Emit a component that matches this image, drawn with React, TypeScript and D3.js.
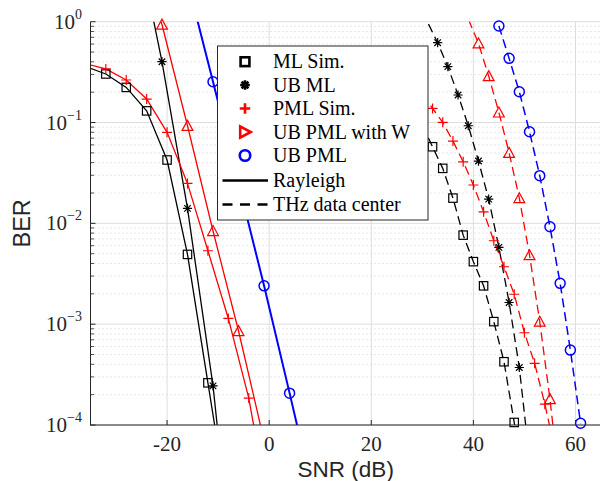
import React from 'react';
import * as d3 from 'd3';

const W = 600;
const H = 481;

// Rayleigh channel (solid lines)
const mlSimRayX = [-36, -32, -28, -24, -20, -16, -12, -8];
const mlSimRayY = [0.36, 0.303, 0.223, 0.1305, 0.0425, 0.00492, 2.62e-4, 1.4e-5];
const ubMlRayX = [-23, -21, -16, -11, -6];
const ubMlRayY = [1.26, 0.401, 0.0141, 2.44e-4, 1e-6];
const pmlSimRayX = [-36, -32, -28, -24, -20, -16, -12, -8, -4, 0];
const pmlSimRayY = [0.384, 0.34, 0.264, 0.171, 0.08, 0.0249, 0.00535, 0.00114, 1.85e-4, 1.4e-5];
const ubPmlWRayX = [-23, -21, -16, -11, -6, -1];
const ubPmlWRayY = [2.0, 0.938, 0.0929, 0.0084, 8.55e-4, 7e-5];
const ubPmlRayX = [-16, -11, -6, -1, 4, 9];
const ubPmlRayY = [2.5, 0.254, 0.025, 0.0024, 2.07e-4, 1.7e-5];

// THz data center (dashed lines)
const mlSimThzX = [30, 32, 34, 36, 38, 40, 42, 44, 46, 48, 50];
const mlSimThzY = [0.094, 0.0575, 0.0351, 0.0178, 0.00764, 0.00417, 0.0024, 0.00106, 4.24e-4, 1.06e-4, 2.5e-5];
const ubMlThzX = [30, 33, 35, 37, 39, 41, 43, 45, 47, 49, 51];
const ubMlThzY = [1.26, 0.619, 0.358, 0.1875, 0.0929, 0.0415, 0.0174, 0.00578, 0.00164, 3.72e-4, 4.5e-5];
const pmlSimThzX = [30, 32, 34, 36, 38, 40, 42, 44, 46, 48, 50, 52, 54, 56];
const pmlSimThzY = [0.19, 0.138, 0.1005, 0.0655, 0.0408, 0.024, 0.013, 0.00672, 0.00371, 0.00198, 8.22e-4, 4.09e-4, 1.61e-4, 5.6e-5];
const ubPmlWThzX = [38, 41, 43, 45, 47, 49, 51, 53, 55, 57];
const ubPmlWThzY = [1.41, 0.61, 0.289, 0.126, 0.0501, 0.0178, 0.00484, 0.00106, 1.81e-4, 2.3e-5];
const ubPmlThzX = [45, 47, 49, 51, 53, 55, 57, 59, 61];
const ubPmlThzY = [0.906, 0.433, 0.202, 0.081, 0.0297, 0.00925, 0.00254, 5.53e-4, 1.04e-4];

const xTicks = [-20, 0, 20, 40, 60];
const xTickLabels = ['-20', '0', '20', '40', '60'];
const yTicks = [1, 0.1, 0.01, 0.001, 0.0001];
const yTickExp = ['0', '\u22121', '\u22122', '\u22123', '\u22124'];

const legendLabels = ['ML Sim.', 'UB ML', 'PML Sim.', 'UB PML with W', 'UB PML', 'Rayleigh', 'THz data center'];

const DASH = '9,5';

const series = [
  { x: mlSimRayX, y: mlSimRayY, color: '#000000', dash: null, marker: 'square', lw: 1.3 },
  { x: ubMlRayX, y: ubMlRayY, color: '#000000', dash: null, marker: 'star', lw: 1.3 },
  { x: pmlSimRayX, y: pmlSimRayY, color: '#ff0000', dash: null, marker: 'plus', lw: 1.3 },
  { x: ubPmlWRayX, y: ubPmlWRayY, color: '#ff0000', dash: null, marker: 'tri', lw: 1.3 },
  { x: ubPmlRayX, y: ubPmlRayY, color: '#0000ff', dash: null, marker: 'circle', lw: 2 },
  { x: mlSimThzX, y: mlSimThzY, color: '#000000', dash: DASH, marker: 'square', lw: 1.3 },
  { x: ubMlThzX, y: ubMlThzY, color: '#000000', dash: DASH, marker: 'star', lw: 1.3 },
  { x: pmlSimThzX, y: pmlSimThzY, color: '#ff0000', dash: DASH, marker: 'plus', lw: 1.3 },
  { x: ubPmlWThzX, y: ubPmlWThzY, color: '#ff0000', dash: DASH, marker: 'tri', lw: 1.3 },
  { x: ubPmlThzX, y: ubPmlThzY, color: '#0000ff', dash: DASH, marker: 'circle', lw: 1.5 },
];

const marker = (type: string, cx: number, cy: number, color: string, sw: number, key: any, k = 1) => {
  if (type === 'square') {
    const s = 4.2 * k;
    return <rect key={key} x={cx - s} y={cy - s} width={2 * s} height={2 * s} fill='none' stroke={color} strokeWidth={sw} />;
  }
  if (type === 'star') {
    const r = 4.6 * k;
    const d = r * 0.707;
    return <path key={key} d={`M${cx - r},${cy}H${cx + r}M${cx},${cy - r}V${cy + r}M${cx - d},${cy - d}L${cx + d},${cy + d}M${cx - d},${cy + d}L${cx + d},${cy - d}`} stroke={color} strokeWidth={sw} fill='none' />;
  }
  if (type === 'plus') {
    const r = 5 * k;
    return <path key={key} d={`M${cx - r},${cy}H${cx + r}M${cx},${cy - r}V${cy + r}`} stroke={color} strokeWidth={sw} fill='none' />;
  }
  if (type === 'tri') {
    const r = 5.4 * k;
    return <path key={key} d={`M${cx},${cy - r}L${cx + r},${cy + r * 0.85}L${cx - r},${cy + r * 0.85}Z`} stroke={color} strokeWidth={sw} fill='none' />;
  }
  if (type === 'triR') {
    const r = 5.4 * k;
    return <path key={key} d={`M${cx + r},${cy}L${cx - r * 0.85},${cy + r}L${cx - r * 0.85},${cy - r}Z`} stroke={color} strokeWidth={sw} fill='none' />;
  }
  const r = 5 * k;
  return <circle key={key} cx={cx} cy={cy} r={r} fill='none' stroke={color} strokeWidth={sw} />;
};

export default function App() {
  const x = d3.scaleLinear().domain([-35, 65]).range([90.5, 601]);
  const y = d3.scaleLog().domain([1e-4, 1]).range([425, 21.7]);
  const [x0, x1] = x.range();
  const [y0, y1] = y.range();

  const minor: number[] = [];
  for (let e = -4; e < 0; e++) {
    for (let m = 2; m <= 9; m++) minor.push(m * Math.pow(10, e));
  }

  const line = d3.line<[number, number]>().x(d => x(d[0])).y(d => y(d[1]));

  const legendMarkers = ['square', 'star', 'plus', 'triR', 'circle'];
  const legendColors = ['#000000', '#000000', '#ff0000', '#ff0000', '#0000ff'];
  const lx = 217.5, ly = 46, lw = 210.5, lh = 174;
  const rowY = [61.7, 85, 108.5, 132, 155.5, 180.5, 204.5];

  return (
    <svg width={W} height={H} style={{ position: 'absolute', left: 0, top: 0, background: '#fff' }}>
      <defs>
        <clipPath id='plot-clip'>
          <rect x={x0} y={y1} width={x1 - x0} height={y0 - y1} />
        </clipPath>
      </defs>

      {/* grid */}
      <g>
        {minor.map((v, i) => (
          <line key={'mg' + i} x1={x0} x2={x1} y1={y(v)} y2={y(v)} stroke='#c4c4c4' strokeWidth={0.8} strokeDasharray='1,3' />
        ))}
        {yTicks.map((v, i) => (
          <line key={'yg' + i} x1={x0} x2={x1} y1={y(v)} y2={y(v)} stroke='#dedede' strokeWidth={1} />
        ))}
        {xTicks.map((v, i) => (
          <line key={'xg' + i} x1={x(v)} x2={x(v)} y1={y0} y2={y1} stroke='#dedede' strokeWidth={1} />
        ))}
      </g>

      {/* lines */}
      <g clipPath='url(#plot-clip)'>
        {series.map((s, i) => (
          <path
            key={'l' + i}
            d={line(s.x.map((v, j) => [v, s.y[j]] as [number, number])) || ''}
            fill='none'
            stroke={s.color}
            strokeWidth={s.lw}
            strokeDasharray={s.dash || undefined}
          />
        ))}
      </g>

      {/* markers */}
      <g>
        {series.map((s, i) =>
          s.x.map((v, j) => {
            if (v < -35 || v > 65 || s.y[j] > 1 || s.y[j] < 1e-4) return null;
            return marker(s.marker, x(v), y(s.y[j]), s.color, s.marker === 'circle' ? 1.5 : 1.2, 'm' + i + '-' + j);
          })
        )}
      </g>

      {/* axes */}
      <g stroke='#262626' strokeWidth={1}>
        <line x1={x0} x2={x0} y1={y0 + 0.5} y2={y1} />
        <line x1={x0} x2={x1} y1={y0} y2={y0} />
        {yTicks.map((v, i) => <line key={'yt' + i} x1={x0} x2={x0 + 5} y1={y(v)} y2={y(v)} />)}
        {minor.map((v, i) => <line key={'ymt' + i} x1={x0} x2={x0 + 3.5} y1={y(v)} y2={y(v)} strokeWidth={0.8} />)}
        {xTicks.map((v, i) => <line key={'xt' + i} x1={x(v)} x2={x(v)} y1={y0} y2={y0 - 5} />)}
      </g>

      {/* tick labels */}
      <g fontFamily='"Liberation Serif", serif' fill='#262626'>
        {xTicks.map((v, i) => (
          <text key={'xl' + i} x={x(v)} y={450.5} fontSize={21} textAnchor='middle'>{xTickLabels[i]}</text>
        ))}
        {yTicks.map((v, i) => (
          <text key={'yl' + i} x={82} y={y(v) + 7} fontSize={21} textAnchor='end'>
            10<tspan dy={-10} fontSize={14}>{yTickExp[i]}</tspan>
          </text>
        ))}
      </g>

      {/* axis labels */}
      <text x={(x0 + x1) / 2} y={476.5} fontFamily='"Liberation Sans", Arial, sans-serif' fontSize={22.5} textAnchor='middle' fill='#262626'>SNR (dB)</text>
      <text transform={`translate(30,${(y0 + y1) / 2}) rotate(-90)`} fontFamily='"Liberation Sans", Arial, sans-serif' fontSize={23.5} textAnchor='middle' fill='#262626'>BER</text>

      {/* legend */}
      <g>
        <rect x={lx} y={ly} width={lw} height={lh} fill='#ffffff' stroke='#262626' strokeWidth={1} />
        {legendMarkers.map((m, i) => marker(m, 245, rowY[i], legendColors[i], 2.6, 'lg' + i, 1.05))}
        <circle cx={245} cy={rowY[1]} r={2.5} fill='#000' />
        <line x1={222.5} x2={268} y1={rowY[5]} y2={rowY[5]} stroke='#000' strokeWidth={2.6} />
        <line x1={222.5} x2={268} y1={rowY[6]} y2={rowY[6]} stroke='#000' strokeWidth={2.6} strokeDasharray='10,7.5' />
        {legendLabels.map((t, i) => (
          <text key={'lt' + i} x={273} y={rowY[i] + 6.5} fontFamily='"Liberation Serif", serif' fontSize={20} fill='#000'>{t}</text>
        ))}
      </g>
    </svg>
  );
}
